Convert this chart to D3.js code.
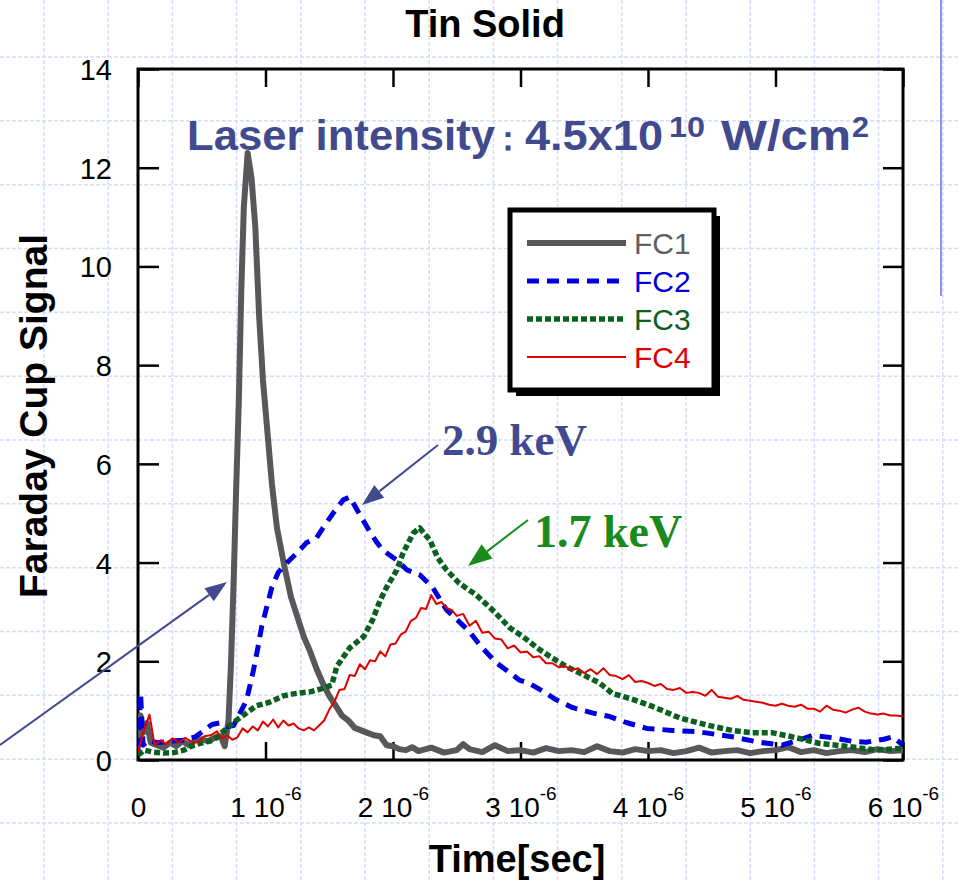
<!DOCTYPE html>
<html>
<head>
<meta charset="utf-8">
<script src="https://cdn.jsdelivr.net/npm/d3@7"></script>
<style>
  body { margin: 0; background: #fff; }
  svg { display: block; }
</style>
</head>
<body>
<svg id="chart" width="958" height="881"></svg>
<script>
// time in microseconds, Faraday cup signal (a.u.)
const fc1 = [
  [0.00,0.45],[0.02,0.9],[0.04,0.55],[0.07,0.75],[0.10,0.35],[0.15,0.3],[0.20,0.25],[0.25,0.35],
  [0.30,0.28],[0.35,0.38],[0.40,0.3],[0.45,0.4],[0.50,0.42],[0.55,0.38],[0.60,0.45],[0.65,0.48],
  [0.68,0.28],[0.71,0.8],[0.73,2.0],[0.75,3.6],[0.77,5.5],[0.79,7.2],[0.81,9.5],[0.83,11.2],
  [0.86,12.3],[0.89,11.8],[0.92,10.8],[0.95,9.0],[0.98,7.7],[1.01,6.8],[1.05,5.6],[1.09,4.7],
  [1.15,3.9],[1.20,3.3],[1.25,2.9],[1.30,2.5],[1.35,2.2],[1.40,1.85],[1.45,1.55],[1.50,1.3],
  [1.55,1.1],[1.60,0.9],[1.65,0.8],[1.70,0.65],[1.75,0.6],[1.80,0.55],[1.85,0.5],[1.90,0.48],
  [1.95,0.3],[2.00,0.28],[2.05,0.22],[2.10,0.2],[2.15,0.26],[2.20,0.18],[2.30,0.25],[2.40,0.15],
  [2.50,0.2],[2.55,0.32],[2.60,0.22],[2.70,0.16],[2.80,0.3],[2.90,0.18],[3.00,0.2],[3.10,0.15],
  [3.20,0.24],[3.30,0.18],[3.40,0.2],[3.50,0.16],[3.60,0.28],[3.70,0.18],[3.80,0.15],[3.90,0.22],
  [4.00,0.18],[4.10,0.2],[4.20,0.14],[4.30,0.18],[4.40,0.25],[4.50,0.15],[4.60,0.18],[4.70,0.2],
  [4.80,0.14],[4.90,0.18],[5.00,0.2],[5.10,0.26],[5.20,0.16],[5.30,0.2],[5.40,0.14],[5.50,0.18],
  [5.60,0.2],[5.70,0.16],[5.80,0.22],[5.90,0.18],[6.00,0.2]
];
const fc2 = [
  [0.00,0.2],[0.02,1.35],[0.04,0.3],[0.08,0.4],[0.15,0.35],[0.25,0.38],[0.35,0.4],[0.45,0.47],
  [0.52,0.6],[0.58,0.72],[0.64,0.75],[0.70,0.68],[0.75,0.7],[0.80,0.95],[0.85,1.2],[0.90,1.75],
  [0.94,2.27],[0.97,2.7],[1.01,3.1],[1.05,3.5],[1.10,3.8],[1.17,4.0],[1.25,4.2],[1.32,4.4],
  [1.40,4.5],[1.45,4.7],[1.53,5.0],[1.61,5.27],[1.66,5.33],[1.74,4.97],[1.82,4.62],[1.87,4.42],
  [1.92,4.25],[2.03,4.05],[2.11,3.85],[2.21,3.75],[2.31,3.5],[2.42,3.04],[2.52,2.8],[2.60,2.6],
  [2.69,2.3],[2.81,1.97],[2.89,1.82],[2.99,1.62],[3.07,1.55],[3.17,1.4],[3.28,1.22],[3.41,1.06],
  [3.57,0.95],[3.70,0.88],[3.83,0.76],[3.99,0.64],[4.19,0.6],[4.40,0.57],[4.66,0.47],[4.87,0.36],
  [5.05,0.3],[5.20,0.42],[5.29,0.5],[5.45,0.45],[5.60,0.38],[5.71,0.36],[5.85,0.42],[5.92,0.47],
  [6.00,0.3]
];
const fc3 = [
  [0.00,0.1],[0.05,0.2],[0.12,0.16],[0.20,0.14],[0.28,0.15],[0.36,0.2],[0.41,0.27],[0.49,0.34],
  [0.59,0.4],[0.70,0.65],[0.77,0.8],[0.85,0.95],[0.93,1.1],[1.03,1.17],[1.14,1.3],[1.24,1.35],
  [1.35,1.38],[1.45,1.45],[1.52,1.52],[1.56,1.9],[1.66,2.27],[1.77,2.5],[1.84,2.84],[1.90,3.24],
  [1.95,3.5],[2.03,3.85],[2.08,4.2],[2.16,4.6],[2.21,4.7],[2.29,4.45],[2.35,4.1],[2.42,3.85],
  [2.52,3.58],[2.65,3.35],[2.78,3.04],[2.92,2.67],[3.02,2.5],[3.13,2.27],[3.23,2.1],[3.36,1.89],
  [3.49,1.73],[3.62,1.56],[3.72,1.35],[3.88,1.23],[4.04,1.08],[4.25,0.85],[4.46,0.71],[4.66,0.6],
  [4.82,0.55],[4.98,0.55],[5.13,0.47],[5.34,0.34],[5.58,0.27],[5.79,0.2],[6.00,0.24]
];
const fc4 = [
  [0.00,0.15],[0.04,0.55],[0.09,0.92],[0.13,0.30],[0.18,0.40],[0.22,0.32],[0.27,0.44],[0.32,0.35],
  [0.37,0.45],[0.42,0.37],[0.47,0.36],[0.52,0.48],[0.57,0.50],[0.62,0.58],[0.66,0.43],[0.70,0.50],
  [0.74,0.41],[0.78,0.46],[0.82,0.64],[0.86,0.56],[0.90,0.68],[0.94,0.60],[0.98,0.78],[1.02,0.68],
  [1.06,0.82],[1.10,0.66],[1.14,0.80],[1.18,0.70],[1.22,0.74],[1.26,0.64],[1.30,0.60],[1.34,0.66],
  [1.38,0.60],[1.42,0.70],[1.46,0.80],[1.50,1.02],[1.54,1.18],[1.58,1.42],[1.62,1.44],[1.66,1.72],
  [1.70,1.70],[1.74,1.94],[1.78,1.84],[1.82,2.02],[1.86,2.00],[1.90,2.20],[1.94,2.10],[1.98,2.34],
  [2.02,2.36],[2.06,2.54],[2.10,2.60],[2.14,2.82],[2.18,2.88],[2.22,3.08],[2.26,3.06],[2.30,3.34],
  [2.34,3.16],[2.38,3.20],[2.42,3.08],[2.46,3.04],[2.50,2.92],[2.55,2.96],[2.60,2.72],[2.65,2.82],
  [2.70,2.58],[2.75,2.60],[2.80,2.46],[2.85,2.44],[2.90,2.26],[2.95,2.32],[3.00,2.18],[3.05,2.20],
  [3.10,2.08],[3.15,2.10],[3.20,1.96],[3.25,1.96],[3.30,1.88],[3.35,1.90],[3.40,1.82],[3.45,1.86],
  [3.50,1.76],[3.55,1.84],[3.60,1.74],[3.65,1.86],[3.70,1.72],[3.75,1.70],[3.80,1.64],[3.85,1.72],
  [3.90,1.58],[3.95,1.60],[4.00,1.56],[4.05,1.50],[4.10,1.54],[4.15,1.44],[4.20,1.42],[4.25,1.46],
  [4.30,1.36],[4.35,1.38],[4.40,1.36],[4.45,1.30],[4.50,1.42],[4.55,1.28],[4.60,1.26],[4.65,1.24],
  [4.70,1.30],[4.75,1.22],[4.80,1.20],[4.85,1.18],[4.90,1.16],[4.95,1.12],[5.00,1.10],[5.05,1.14],
  [5.10,1.10],[5.15,1.08],[5.20,1.12],[5.25,1.04],[5.30,1.04],[5.35,0.98],[5.40,1.10],[5.45,1.02],
  [5.50,1.00],[5.55,0.96],[5.60,1.02],[5.65,1.06],[5.70,0.98],[5.75,0.94],[5.80,0.92],[5.85,0.94],
  [5.90,0.90],[5.95,0.90],[6.00,0.88]
];
const seriesNames = ["FC1", "FC2", "FC3", "FC4"];
const xTicks = [0, 1, 2, 3, 4, 5, 6];
const yTicks = [0, 2, 4, 6, 8, 10, 12, 14];

const font = '"Liberation Sans", Arial, sans-serif';
const serif = '"Liberation Serif", "Times New Roman", serif';
const slate = "#414a8f";
const green = "#1a8a1a";

const svg = d3.select("#chart");
const W = 958, H = 881;

const x = d3.scaleLinear().domain([0, 6]).range([138, 903]);
const y = d3.scaleLinear().domain([0, 14]).range([760, 69]);

// slide background grid
const bg = svg.append("g");
bg.append("rect").attr("width", W).attr("height", H).attr("fill", "#fff");
bg.selectAll("line.v").data(d3.range(0, 15)).enter().append("line")
  .attr("x1", k => 44 + 64.2 * k).attr("x2", k => 44 + 64.2 * k)
  .attr("y1", 0).attr("y2", H)
  .attr("stroke", "#d6def7").attr("stroke-width", 1.5).attr("stroke-dasharray", "4,2");
bg.selectAll("line.h").data(d3.range(0, 13)).enter().append("line")
  .attr("y1", k => 57 + 63.83 * k).attr("y2", k => 57 + 63.83 * k)
  .attr("x1", 0).attr("x2", W)
  .attr("stroke", "#d6def7").attr("stroke-width", 1.5).attr("stroke-dasharray", "4,2");
bg.append("line").attr("x1", 941).attr("x2", 941).attr("y1", 0).attr("y2", 296)
  .attr("stroke", "#8a98e6").attr("stroke-width", 2);

// axes
const gx = svg.append("g").attr("transform", "translate(0,760)")
  .call(d3.axisBottom(x).tickValues(xTicks).tickSize(-18)
    .tickFormat(d => d === 0 ? "0" : d + " 10"));
gx.attr("font-family", font).attr("font-size", 28);
gx.select(".domain").remove();
gx.selectAll("line").attr("stroke", "#000").attr("stroke-width", 2.5);
gx.selectAll("text").attr("y", 57).attr("dy", null).attr("fill", "#000")
  .filter(d => d !== 0)
  .append("tspan").attr("dy", -17).attr("font-size", 19).text("-6");

const gxt = svg.append("g").attr("transform", "translate(0,69)")
  .call(d3.axisTop(x).tickValues(xTicks).tickSize(-18).tickFormat(""));
gxt.select(".domain").remove();
gxt.selectAll("line").attr("stroke", "#000").attr("stroke-width", 2.5);

const gy = svg.append("g").attr("transform", "translate(139,0)")
  .call(d3.axisLeft(y).tickValues(yTicks).tickSize(-20).tickPadding(27));
gy.attr("font-family", font).attr("font-size", 29);
gy.select(".domain").remove();
gy.selectAll("line").attr("stroke", "#000").attr("stroke-width", 2.5);
gy.selectAll("text").attr("fill", "#000").attr("dy", "0.36em");

const gyr = svg.append("g").attr("transform", "translate(903,0)")
  .call(d3.axisRight(y).tickValues(yTicks).tickSize(-20).tickFormat(""));
gyr.select(".domain").remove();
gyr.selectAll("line").attr("stroke", "#000").attr("stroke-width", 2.5);

svg.append("rect")
  .attr("x", x(0)).attr("y", y(14))
  .attr("width", x(6) - x(0)).attr("height", y(0) - y(14))
  .attr("fill", "none").attr("stroke", "#000").attr("stroke-width", 3);

// series
const styles = [
  { data: fc1, color: "#58585a", width: 6, dash: null },
  { data: fc2, color: "#0000dd", width: 5, dash: "12,8" },
  { data: fc3, color: "#0b601f", width: 5.5, dash: "6,3" },
  { data: fc4, color: "#e00000", width: 2, dash: null }
];
const line = d3.line().x(d => x(d[0])).y(d => y(d[1]));

svg.append("clipPath").attr("id", "plotclip").append("rect")
  .attr("x", x(0)).attr("y", y(14)).attr("width", x(6) - x(0)).attr("height", y(0) - y(14));

const plot = svg.append("g").attr("clip-path", "url(#plotclip)");
styles.forEach(s => {
  plot.append("path").datum(s.data)
    .attr("d", line)
    .attr("fill", "none")
    .attr("stroke", s.color)
    .attr("stroke-width", s.width)
    .attr("stroke-linejoin", "round")
    .attr("stroke-dasharray", s.dash);
});

// legend
const lg = svg.append("g");
lg.append("rect").attr("x", 516).attr("y", 216).attr("width", 204).attr("height", 180).attr("fill", "#000");
lg.append("rect").attr("x", 510).attr("y", 210).attr("width", 204).attr("height", 180)
  .attr("fill", "#fff").attr("stroke", "#000").attr("stroke-width", 5);
const textColors = ["#606060", "#0000dd", "#0b601f", "#e00000"];
seriesNames.forEach((name, i) => {
  const ly = 243 + i * 38;
  lg.append("line").attr("x1", 527).attr("x2", 626).attr("y1", ly).attr("y2", ly)
    .attr("stroke", styles[i].color).attr("stroke-width", styles[i].width)
    .attr("stroke-dasharray", styles[i].dash);
  lg.append("text").attr("x", 634).attr("y", ly + 11)
    .attr("font-family", font).attr("font-size", 30).attr("fill", textColors[i])
    .text(name);
});

// titles
svg.append("text").attr("x", 485).attr("y", 37).attr("text-anchor", "middle")
  .attr("font-family", font).attr("font-weight", "bold").attr("font-size", 38)
  .text("Tin Solid");
svg.append("text").attr("x", 517).attr("y", 872).attr("text-anchor", "middle")
  .attr("font-family", font).attr("font-weight", "bold").attr("font-size", 38)
  .text("Time[sec]");
svg.append("text").attr("transform", "translate(47,416) rotate(-90)").attr("text-anchor", "middle")
  .attr("font-family", font).attr("font-weight", "bold").attr("font-size", 39)
  .text("Faraday Cup Signal");

// annotations
const laserParts = [
  { s: "Laser intensity", x: 187, y: 150, w: 308, fs: 43 },
  { s: "：", x: 491, y: 150, w: null, fs: 34 },
  { s: "4.5x10", x: 525, y: 150, w: 138, fs: 43 },
  { s: "10", x: 669, y: 137, w: 36, fs: 29 },
  { s: "W/cm", x: 721, y: 150, w: 130, fs: 43 },
  { s: "2", x: 852, y: 137, w: 17, fs: 29 }
];
laserParts.forEach(p => {
  const t = svg.append("text").attr("x", p.x).attr("y", p.y).attr("fill", slate)
    .attr("font-family", font).attr("font-weight", "bold").attr("font-size", p.fs)
    .text(p.s);
  if (p.w) t.attr("textLength", p.w).attr("lengthAdjust", "spacingAndGlyphs");
});

svg.append("text").attr("x", 442).attr("y", 455).attr("fill", slate)
  .attr("font-family", serif).attr("font-weight", "bold").attr("font-size", 45).text("2.9 keV");
svg.append("text").attr("x", 534).attr("y", 547).attr("fill", green)
  .attr("font-family", serif).attr("font-weight", "bold").attr("font-size", 46).text("1.7 keV");

function arrow(x1, y1, x2, y2, color, len, wid) {
  const a = Math.atan2(y2 - y1, x2 - x1);
  const bx = x2 - len * Math.cos(a), by = y2 - len * Math.sin(a);
  const nx = -Math.sin(a) * wid / 2, ny = Math.cos(a) * wid / 2;
  svg.append("line").attr("x1", x1).attr("y1", y1).attr("x2", bx).attr("y2", by)
    .attr("stroke", color).attr("stroke-width", 2);
  svg.append("path")
    .attr("d", `M${x2},${y2}L${bx + nx},${by + ny}L${bx - nx},${by - ny}Z`)
    .attr("fill", color);
}
arrow(438, 445, 362, 505, slate, 22, 16);
arrow(0, 745, 227, 582, slate, 22, 16);
arrow(528, 520, 468, 566, green, 24, 18);
</script>
</body>
</html>
